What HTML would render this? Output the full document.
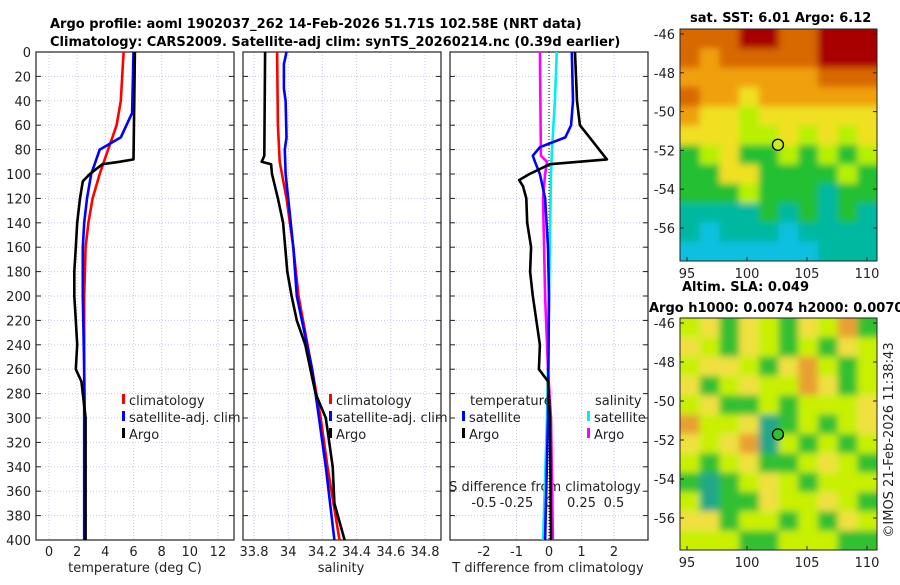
<!DOCTYPE html>
<html><head><meta charset="utf-8"><style>
body{margin:0;background:#fff;}
svg text{font-family:"DejaVu Sans","Liberation Sans",sans-serif;font-size:13px;fill:#222;}
.b{font-weight:bold;fill:#000;}
</style></head><body>
<svg id="c" width="900" height="580" viewBox="0 0 900 580">
<defs>
<filter id="blur" x="-10%" y="-10%" width="120%" height="120%"><feGaussianBlur stdDeviation="3.5"/></filter>
<clipPath id="clip1"><rect x="680" y="29" width="197" height="232"/></clipPath>
<clipPath id="clip2"><rect x="680" y="318" width="197" height="232"/></clipPath>
</defs>
<text class="b" x="50" y="28">Argo profile: aoml 1902037_262 14-Feb-2026 51.71S 102.58E (NRT data)</text>
<text class="b" x="50" y="46">Climatology: CARS2009. Satellite-adj clim: synTS_20260214.nc (0.39d earlier)</text>
<text class="b" x="690" y="22">sat. SST: 6.01 Argo: 6.12</text>
<text class="b" x="682" y="291">Altim. SLA: 0.049</text>
<text class="b" x="649" y="312">Argo h1000: 0.0074 h2000: 0.0070</text>
<text x="893" y="440" transform="rotate(-90 893 440)" text-anchor="middle">©IMOS 21-Feb-2026 11:38:43</text>
</svg>
<script>
// ---- data ----
const climTdep=[0,20,40,60,70,80,100,120,140,160,200,260,300,400];
const climT=[5.3,5.2,5.1,4.8,4.5,4.2,3.6,3.1,2.8,2.6,2.5,2.5,2.55,2.55];
const satTdep=[0,50,70,80,90,100,120,140,160,200,260,400];
const satT=[6.0,5.9,5.1,3.6,3.3,3.0,2.7,2.5,2.4,2.4,2.5,2.5];
const argoTdep=[0,88,90,92,100,106,120,140,160,180,200,220,240,260,270,300,400];
const argoT=[6.1,6.0,5.0,3.8,2.9,2.4,2.2,2.0,1.9,1.8,1.8,1.9,2.0,1.9,2.3,2.6,2.6];
const climSdep=[0,60,90,120,160,200,260,300,340,400];
const climS=[33.935,33.94,33.95,33.99,34.03,34.06,34.14,34.19,34.23,34.30];
const satSdep=[0,10,30,40,70,80,100,120,160,200,260,300,340,400];
const satS=[33.99,33.975,33.975,33.985,33.99,33.98,33.985,34.0,34.03,34.05,34.14,34.18,34.22,34.27];
const argoSdep=[0,85,90,92,100,120,140,180,200,220,240,260,280,300,340,370,400];
const argoS=[33.865,33.86,33.845,33.9,33.905,33.94,33.97,33.995,34.02,34.05,34.1,34.13,34.16,34.22,34.26,34.27,34.33];
const dTargoDep=[0,40,60,70,88,92,100,105,110,120,140,160,180,200,240,260,270,300,400];
const dTargo=[0.8,0.86,0.95,1.25,1.78,0.03,-0.6,-0.92,-0.8,-0.7,-0.67,-0.55,-0.58,-0.5,-0.28,-0.31,-0.03,0.03,0.06];
const dTsatDep=[0,40,60,70,78,85,90,100,120,160,200,300,400];
const dTsat=[0.7,0.74,0.68,0.5,-0.28,-0.5,-0.43,-0.28,-0.12,-0.03,0,-0.03,-0.12];
const dSsatDep=[0,40,80,100,200,300,400];
const dSsat=[0.06,0.045,0.023,0.015,0,-0.015,-0.045];
const dSargoDep=[0,85,90,100,120,160,200,260,300,400];
const dSargo=[-0.07,-0.062,-0.015,-0.03,-0.046,-0.038,-0.03,-0.008,0.015,0.03];
const depthTicks=[0,20,40,60,80,100,120,140,160,180,200,220,240,260,280,300,320,340,360,380,400];
const tTicks=[0,2,4,6,8,10,12];
const sTicks=[33.8,34,34.2,34.4,34.6,34.8];
const sTickLabels=["33.8","34","34.2","34.4","34.6","34.8"];
const dTTicks=[-2,-1,0,1,2];
const dSTicks=[-0.5,-0.25,0,0.25,0.5];
const lonTicks=[95,100,105,110];
const latTicks=[-46,-48,-50,-52,-54,-56];
const sstGrid=[
[6,6,6,7,7,6,6,7,7,7],[6,5,6,6,6,6,6,7,7,7],[5,5,5,5,5,5,5,6,6,6],[6,5,5,4,5,5,5,5,5,5],
[5,4,4,3,4,4,4,4,4,4],[4,4,4,3,3,4,3,4,3,4],[2,3,4,2,2,3,2,3,2,3],[2,2,4,4,2,2,2,2,3,2],
[2,2,2,3,2,2,2,1,2,2],[1,1,1,1,2,1,2,1,2,1],[1,0,1,1,1,0,1,1,1,1],[0,0,0,0,0,0,0,1,1,1]];
const slaGrid=[
[3,4,2,4,3,2,4,3,5,2],[4,3,2,4,3,2,3,2,4,3],[3,4,4,3,2,4,5,3,2,3],[4,2,3,4,3,3,5,4,2,3],
[3,4,2,2,3,2,3,3,3,4],[5,3,3,4,1,2,3,2,3,4],[4,3,4,5,1,3,2,3,2,3],[3,2,3,4,2,2,3,4,3,2],
[2,1,2,3,4,3,2,3,3,3],[3,1,2,2,4,3,3,4,3,2],[4,4,2,3,3,2,3,2,4,3],[3,3,3,2,2,3,3,3,2,2]];
const argoLon=102.58, argoLat=-51.71;
// ---- drawing ----
const svg=document.getElementById('c');
const NS='http://www.w3.org/2000/svg';
function mk(tag,attrs,parent){const e=document.createElementNS(NS,tag);for(const k in attrs)e.setAttribute(k,attrs[k]);(parent||svg).appendChild(e);return e;}
const Y=d=>52+d*1.22;
const xT=t=>49+t*14.08;
const xS=s=>254+(s-33.8)*171;
const xdT=t=>549+t*32.5;
const xdS=s=>549+s*130;
const panels=[[36,234],[243,441],[450,648]];
panels.forEach((p,i)=>{
  depthTicks.forEach(d=>{const l=mk('line',{x1:p[0],x2:p[1],y1:Y(d),y2:Y(d),stroke:'#c8c8ec','stroke-dasharray':'1,2'});
  
  });
});
function vgrid(ticks,fx){ticks.forEach(t=>{const l=mk('line',{x1:fx(t),x2:fx(t),y1:52,y2:540,stroke:'#c8c8ec','stroke-dasharray':'1,2'});

});}
vgrid(tTicks,xT);vgrid(sTicks,xS);vgrid(dTTicks,xdT);
panels.forEach((p,i)=>{
  const r=mk('rect',{x:p[0],y:52,width:p[1]-p[0],height:488,fill:'none',stroke:'#222','stroke-width':1.2});
  
  
  depthTicks.forEach(d=>{
    mk('line',{x1:p[0],x2:p[0]+5,y1:Y(d),y2:Y(d),stroke:'#222'});
    mk('line',{x1:p[1]-5,x2:p[1],y1:Y(d),y2:Y(d),stroke:'#222'});
  });
});
depthTicks.forEach(d=>{const t=mk('text',{x:31,y:Y(d)+5,'text-anchor':'end'});t.textContent=d;

});
function xlabels(ticks,fx,labels,y,name){ticks.forEach((v,i)=>{const t=mk('text',{x:fx(v),y:y,'text-anchor':'middle'});t.textContent=labels?labels[i]:v;

});}
xlabels(tTicks,xT,null,556,'temperature-tick-label');
xlabels(sTicks,xS,sTickLabels,556,'salinity-tick-label');
xlabels(dTTicks,xdT,null,556,'t-diff-tick-label');
xlabels(dSTicks,xdS,null,507,'s-diff-tick-label');
function lbl(x,y,s,name){const t=mk('text',{x:x,y:y,'text-anchor':'middle'});t.textContent=s;

}
lbl(135,572,'temperature (deg C)','temperature-axis-title');
lbl(341,572,'salinity','salinity-axis-title');
lbl(548,572,'T difference from climatology','t-diff-axis-title');
lbl(545,491,'S difference from climatology','s-diff-axis-title');
const z=mk('line',{x1:xdT(0),x2:xdT(0),y1:52,y2:540,stroke:'#000','stroke-dasharray':'1,2'});


function series(dep,val,fx,color,name,w){
  const pts=dep.map((d,i)=>fx(val[i]).toFixed(1)+','+Y(d).toFixed(1)).join(' ');
  const e=mk('polyline',{points:pts,fill:'none',stroke:color,'stroke-width':w||2.6,'stroke-linejoin':'round'});
  
  
}
series(climTdep,climT,xT,'#f00','climatology-temperature-line');
series(satTdep,satT,xT,'#00f','satellite-temperature-line');
series(argoTdep,argoT,xT,'#000','argo-temperature-line');
series(climSdep,climS,xS,'#f00','climatology-salinity-line');
series(satSdep,satS,xS,'#00f','satellite-salinity-line');
series(argoSdep,argoS,xS,'#000','argo-salinity-line');
series(dSsatDep,dSsat,xdS,'#0ee','satellite-salinity-diff-line');
series(dSargoDep,dSargo,xdS,'#f0f','argo-salinity-diff-line');
series(dTsatDep,dTsat,xdT,'#00f','satellite-temperature-diff-line');
series(dTargoDep,dTargo,xdT,'#000','argo-temperature-diff-line');
function leg(x,y,color,s,name){
  mk('rect',{x:x,y:y-11,width:3,height:10,fill:color});
  const t=mk('text',{x:x+7,y:y});t.textContent=s;
  
  
}
leg(122,405,'#f00','climatology','legend-climatology');
leg(122,422,'#00f','satellite-adj. clim','legend-satellite-adj');
leg(122,439,'#000','Argo','legend-argo');
leg(329,405,'#f00','climatology','legend2-climatology');
leg(329,422,'#00f','satellite-adj. clim','legend2-satellite-adj');
leg(329,439,'#000','Argo','legend2-argo');
const tl=mk('text',{x:470,y:405});tl.textContent='temperature';


const sl=mk('text',{x:595,y:405});sl.textContent='salinity';


leg(462,422,'#00f','satellite','legend-t-satellite');
leg(462,439,'#000','Argo','legend-t-argo');
leg(587,422,'#0ee','satellite','legend-s-satellite');
leg(587,439,'#f0f','Argo','legend-s-argo');
const sstCol=['#10c0e0','#00b8a0','#20c030','#b8f000','#f0e020','#f0a010','#d86800','#a80000'];
const slaCol=['#10c0e0','#20a888','#30c030','#c8f000','#f0e040','#e8a030'];
function map(top,grid,cols,degPx,name,clip){
  const x0=680,w=197,h=232,nr=grid.length,nc=grid[0].length,cw=w/nc,ch=h/nr;
  const outer=mk('g',{'clip-path':'url(#'+clip+')'});
  const g=mk('g',{filter:'url(#blur)'},outer);
  
  
  grid.forEach((row,r)=>row.forEach((v,c)=>{
    const ex=c===0?-8:0, ey=r===0?-8:0, ew=c===nc-1?8:0, eh=r===nr-1?8:0;
    const e=mk('rect',{x:x0+c*cw+ex,y:top+r*ch+ey,width:cw+0.5-ex+ew,height:ch+0.5-ey+eh,fill:cols[v]},g);
    
    
  }));
  const f=mk('rect',{x:x0,y:top,width:w,height:h,fill:'none',stroke:'#222'});
  
  
  const lat0=top+5;
  const fy=la=>lat0+(-46-la)*degPx;
  const fx=lo=>687+(lo-95)*12;
  lonTicks.forEach(lo=>{mk('line',{x1:fx(lo),x2:fx(lo),y1:top+h,y2:top+h-4,stroke:'#222'});
    const t=mk('text',{x:fx(lo),y:top+h+17,'text-anchor':'middle'});t.textContent=lo;
    
    });
  latTicks.forEach(la=>{mk('line',{x1:x0,x2:x0+4,y1:fy(la),y2:fy(la),stroke:'#222'});
    mk('line',{x1:x0+w-4,x2:x0+w,y1:fy(la),y2:fy(la),stroke:'#222'});
    const t=mk('text',{x:675,y:fy(la)+5,'text-anchor':'end'});t.textContent=la;
    
    });
  const c=mk('circle',{cx:fx(argoLon),cy:fy(argoLat),r:5.5,fill:name==='sst-map'?'#c8ec20':'#30c030',stroke:'#000','stroke-width':1.3});
  
  
}
map(29,sstGrid,sstCol,19.4,'sst-map','clip1');
map(318,slaGrid,slaCol,19.5,'sla-map','clip2');
</script>
</body></html>
